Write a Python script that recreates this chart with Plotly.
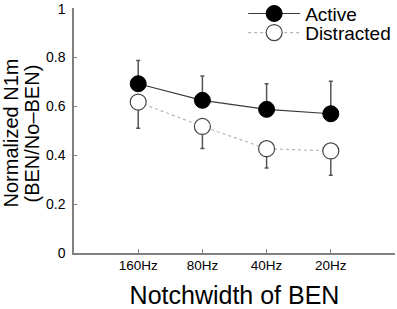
import plotly.graph_objects as go

categories = ["160Hz", "80Hz", "40Hz", "20Hz"]
active = [0.693, 0.625, 0.588, 0.570]
active_err = [0.095, 0.10, 0.105, 0.133]
distracted = [0.618, 0.518, 0.427, 0.418]
distracted_err = [0.107, 0.09, 0.079, 0.10]
y_ticks = [0, 0.2, 0.4, 0.6, 0.8, 1]
y_ticklabels = ["0", "0.2", "0.4", "0.6", "0.8", "1"]
y_title_lines = ["Normalized N1m", "(BEN/No\u2013BEN)"]

FONT = "Liberation Sans, Arial, sans-serif"

fig = go.Figure()
fig.add_trace(go.Scatter(
    x=categories, y=active, name="Active", mode="lines+markers",
    line=dict(color="#3a3a3a", width=1.2),
    marker=dict(size=16, color="black", line=dict(color="black", width=1)),
    error_y=dict(type="data", array=active_err, arrayminus=[0]*4, symmetric=False,
                 color="#555555", thickness=1.5, width=2),
    legend="legend",
))
fig.add_trace(go.Scatter(
    x=categories, y=distracted, name="Distracted", mode="lines+markers",
    line=dict(color="#b5b5b5", width=1.2, dash="dot"),
    marker=dict(size=16, color="white", line=dict(color="#444444", width=1.2)),
    error_y=dict(type="data", array=[0]*4, arrayminus=distracted_err, symmetric=False,
                 color="#555555", thickness=1.5, width=2),
    legend="legend2",
))

leg_common = dict(xanchor="left", yanchor="middle", bgcolor="rgba(0,0,0,0)",
                  font=dict(size=19, family=FONT), itemwidth=52)
fig.update_layout(
    width=397, height=309,
    margin=dict(l=74, r=2, t=8, b=56, autoexpand=False),
    paper_bgcolor="white", plot_bgcolor="white",
    font=dict(family=FONT, color="black", size=13),
    legend=dict(x=0.527, y=0.977, **leg_common),
    legend2=dict(x=0.527, y=0.899, **leg_common),
    showlegend=True,
)
fig.update_xaxes(
    type="category", categoryorder="array", categoryarray=categories,
    range=[-1, 4], showgrid=False, zeroline=False,
    showline=True, linecolor="#808080", linewidth=1.5,
    ticks="inside", ticklen=4, tickcolor="#808080",
    tickfont=dict(size=13.5), ticklabelstandoff=-1,
    title=dict(text="Notchwidth of BEN", font=dict(size=25), standoff=16),
)
fig.update_yaxes(
    range=[0, 1.003], tickvals=y_ticks, ticktext=y_ticklabels,
    showgrid=False, zeroline=False,
    showline=True, linecolor="#808080", linewidth=1.5,
    ticks="inside", ticklen=3, tickcolor="#808080",
    tickfont=dict(size=14), ticklabelstandoff=4,
)
for i, (line, xpos) in enumerate(zip(y_title_lines, [10, 31])):
    fig.add_annotation(
        text=line, textangle=-90, xref="paper", yref="paper",
        x=0, xshift=xpos - 74, y=0.5, yshift=-3, xanchor="center", yanchor="middle",
        showarrow=False, font=dict(size=20, family=FONT, color="black"),
    )

fig.write_html("out.html", config={"displayModeBar": False},
               post_script="document.body.style.margin='0';document.body.style.padding='0';")
